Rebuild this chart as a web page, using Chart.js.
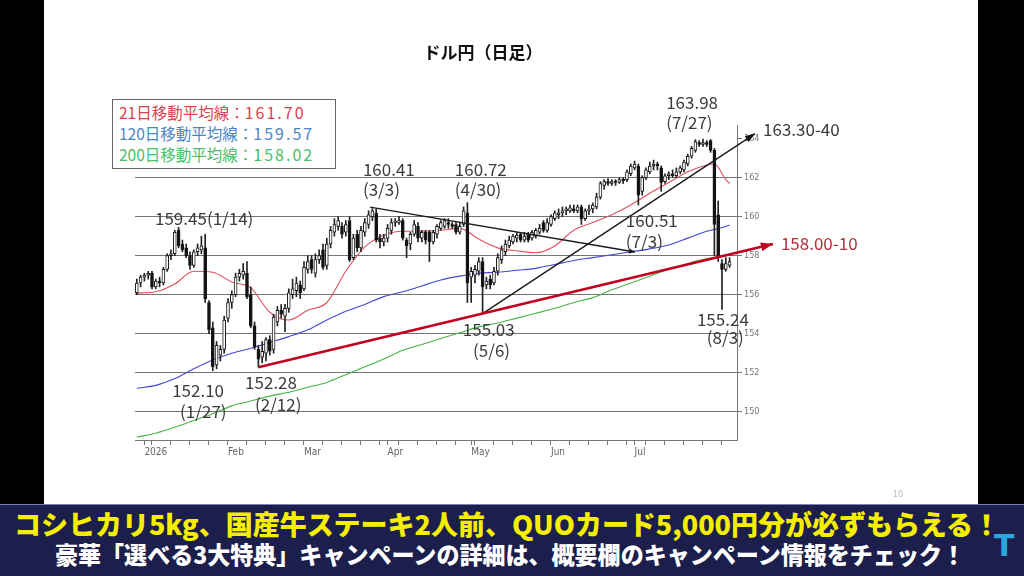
<!DOCTYPE html>
<html><head><meta charset="utf-8">
<script src="https://cdn.jsdelivr.net/npm/chart.js@4.4.1/dist/chart.umd.min.js"></script>
<style>
html,body{margin:0;padding:0;background:#000;width:1024px;height:576px;overflow:hidden;}
#slide{position:absolute;left:44px;top:0;width:934px;height:505px;background:#fff;}
#c{position:absolute;left:0;top:0;}
#title{position:absolute;left:0;width:966px;top:40px;text-align:center;font:700 17px "Noto Sans CJK JP";color:#111;line-height:24px;}
#legend{position:absolute;left:112px;top:99px;width:222px;height:68px;border:1px solid #666;background:#fff;}
#legend div{position:absolute;left:6px;font:400 15.5px "Noto Sans CJK JP";line-height:20px;white-space:nowrap;}
#legend span.n{font-size:16px;letter-spacing:2px;}
#page{position:absolute;left:893px;top:490px;font:400 8px "DejaVu Sans";color:#bbb;}
#banner{position:absolute;left:0;top:504px;width:1024px;height:72px;background:#1c1e4b;border-top:1px solid #7d82b5;}
.bl{position:absolute;white-space:nowrap;transform-origin:0 50%;font-family:"Noto Sans CJK JP";font-weight:900;}
#b1{color:#f6ee00;font-size:27px;line-height:30px;top:4px;}
#b2{color:#fff;font-size:24px;line-height:28px;top:35px;}
#logo{position:absolute;left:994px;top:26px;color:#2ba6de;font:900 30px "DejaVu Sans";line-height:30px;}
</style></head><body>
<div id="slide"></div>
<canvas id="c" width="1024" height="576"></canvas>
<div id="title">ドル円（日足）</div>
<div id="legend">
  <div style="top:2px;color:#d9434f">21日移動平均線：<span class="n">161.70</span></div>
  <div style="top:23px;color:#4a86c5">120日移動平均線：<span class="n">159.57</span></div>
  <div style="top:44px;color:#47c068">200日移動平均線：<span class="n">158.02</span></div>
</div>
<div id="page">10</div>
<div id="banner">
  <span class="bl" id="b1">コシヒカリ5kg、国産牛ステーキ2人前、QUOカード5,000円分が必ずもらえる！</span>
  <span class="bl" id="b2">豪華「選べる3大特典」キャンペーンの詳細は、概要欄のキャンペーン情報をチェック！</span>
  <div id="logo">T</div>
</div>
<script>
// ---- trading days (categories) ----
const dec2025 = [30,31];
const jan2026 = [1,2,5,6,7,8,9,12,13,14,15,16,19,20,21,22,23,26,27,28,29,30];
const feb2026 = [2,3,4,5,6,9,10,11,12,13,16,17,18,19,20,23,24,25,26,27];
const mar2026 = [2,3,4,5,6,9,10,11,12,13,16,17,18,19,20,23,24,25,26,27,30,31];
const apr2026 = [1,2,3,6,7,8,9,10,13,14,15,16,17,20,21,22,23,24,27,28,29,30];
const may2026 = [1,4,5,6,7,8,11,12,13,14,15,18,19,20,21,22,25,26,27,28,29];
const jun2026 = [1,2,3,4,5,8,9,10,11,12,15,16,17,18,19,22,23,24,25,26,29,30];
const jul2026 = [1,2,3,6,7,8,9,10,13,14,15,16,17,20,21,22,23,24,27,28,29,30,31];
const aug2026 = [3,4,5];
const monthLabels = ["2026","Feb","Mar","Apr","May","Jun","Jul"];
const yTicks = [150,152,154,156,158,160,162,164];

// ---- OHLC ----
const opens = [
156.1,156.6,156.9,157.0,157.1,156.4,156.7,156.6,157.3,158.0,
158.1,159.3,158.6,158.4,158.0,157.5,158.2,158.3,158.4,155.6,
154.3,152.4,152.9,153.2,154.8,155.6,156.0,156.9,157.0,157.1,
156.0,154.4,153.2,152.8,153.0,153.7,153.2,154.6,155.2,154.9,
155.3,156.0,156.2,156.5,156.3,157.3,157.8,157.1,157.8,158.3,
157.5,158.6,159.2,159.5,159.5,159.2,159.8,157.9,159.1,158.4,
159.2,159.6,160.0,160.2,158.9,158.7,158.9,159.3,159.7,159.7,
159.8,158.8,158.6,159.1,159.5,158.9,159.2,159.2,158.7,159.1,
159.4,159.5,159.7,159.6,159.6,159.2,159.6,160.2,156.9,157.0,
157.2,157.7,156.5,156.8,156.6,157.2,157.8,158.2,158.5,158.7,
158.9,159.1,158.8,159.1,158.9,159.0,159.2,159.7,159.3,159.6,
159.9,160.1,160.2,160.3,160.3,160.4,160.3,160.5,159.9,160.3,
160.4,160.5,161.0,161.6,161.8,161.7,161.8,161.75,161.9,161.9,
162.2,162.5,162.6,161.3,162.0,162.3,162.6,162.7,162.5,161.8,
162.1,162.2,162.1,162.3,162.4,162.7,163.1,163.4,163.8,163.7,
163.8,163.9,163.4,160.1,157.6,157.3,157.5];
const highs = [
156.8,157.0,157.1,157.2,157.2,156.8,156.9,157.4,158.1,158.3,
159.3,159.45,158.8,158.6,158.2,158.3,158.6,159.0,159.1,155.7,
154.6,153.6,153.4,154.9,155.8,156.2,157.1,157.3,157.6,157.7,
156.4,154.6,153.4,153.6,153.8,153.9,155.0,155.4,155.5,155.5,
156.3,156.8,156.9,156.7,157.7,158.0,158.0,158.1,158.3,158.6,
158.9,159.5,159.9,160.0,159.7,159.8,160.0,159.1,159.3,159.5,
159.9,160.3,160.41,160.4,159.1,159.1,159.6,159.9,159.9,160.0,
159.9,158.9,159.2,159.8,159.7,159.3,159.3,159.3,159.3,159.6,
159.8,159.9,159.9,159.7,159.7,159.7,160.5,160.72,157.4,157.5,
157.9,157.9,156.9,157.0,157.4,158.1,158.5,158.8,159.0,159.1,
159.2,159.2,159.2,159.2,159.3,159.4,159.6,159.8,159.9,160.1,
160.3,160.4,160.5,160.5,160.6,160.6,160.6,160.6,160.4,160.6,
160.7,161.2,161.8,161.9,161.95,161.9,161.9,162.0,162.0,162.4,
162.7,162.85,162.7,162.1,162.5,162.8,162.9,162.8,162.6,162.2,
162.3,162.4,162.5,162.6,162.9,163.2,163.6,163.95,163.9,163.98,
163.9,163.95,163.5,160.8,157.8,157.9,157.9];
const lows = [
156.0,156.4,156.7,156.8,156.3,156.3,156.4,156.5,157.2,157.8,
158.0,158.4,158.2,157.9,157.3,157.4,158.0,158.1,155.6,154.0,
152.10,152.2,152.6,153.0,154.6,155.3,155.9,156.7,156.8,155.8,
154.3,153.2,152.28,152.5,152.6,152.9,153.0,154.4,154.8,154.1,
155.1,155.8,155.9,155.8,156.2,157.1,157.1,156.9,157.6,157.3,
157.3,158.4,159.0,159.3,158.9,159.0,157.7,157.8,158.2,158.2,
159.0,159.4,159.8,158.7,158.4,158.5,158.7,159.1,159.5,159.6,
158.8,157.9,158.3,159.0,158.7,158.7,158.6,157.7,158.6,158.9,
159.3,159.4,159.4,159.4,159.1,159.1,159.5,155.6,155.6,156.6,
157.0,155.03,156.3,156.3,156.5,157.0,157.6,158.0,158.4,158.6,
158.7,158.7,158.7,158.7,158.8,158.9,159.1,159.2,159.2,159.5,
159.8,159.9,160.0,160.1,160.2,160.2,160.2,159.6,159.8,160.1,
160.2,160.4,160.9,161.4,161.6,161.6,161.6,161.7,161.7,161.8,
162.1,162.4,160.6,161.1,161.9,162.2,162.4,162.4,161.3,161.7,
161.9,162.0,162.0,162.2,162.3,162.6,163.0,163.3,163.6,163.6,
163.6,163.3,158.0,157.7,155.24,157.2,157.4];
const closes = [
156.6,156.9,157.0,157.1,156.4,156.7,156.6,157.3,158.0,158.1,
159.2,158.5,158.3,158.0,157.5,158.2,158.4,158.5,155.8,154.2,
152.3,153.4,153.2,154.7,155.6,156.0,156.9,157.1,157.2,155.9,
154.4,153.3,152.7,153.1,153.7,153.1,154.85,155.2,155.0,155.3,
156.1,156.3,156.6,156.1,157.4,157.7,157.3,157.8,158.0,157.4,
158.6,159.3,159.6,159.8,159.1,159.6,157.8,158.9,158.4,159.3,
159.7,160.1,160.3,158.8,158.7,158.9,159.4,159.7,159.75,159.8,
158.9,158.5,159.1,159.6,158.9,159.2,158.8,158.7,159.2,159.5,
159.7,159.8,159.6,159.5,159.2,159.5,160.3,156.6,157.2,157.3,
157.7,156.4,156.7,156.5,157.2,157.9,158.3,158.6,158.8,159.0,
159.05,158.8,159.0,158.8,159.2,159.3,159.4,159.3,159.7,160.0,
160.2,160.2,160.3,160.4,160.45,160.3,160.5,159.9,160.3,160.4,
160.6,161.0,161.7,161.8,161.7,161.8,161.75,161.9,161.85,162.3,
162.6,162.7,161.1,162.0,162.4,162.6,162.7,162.6,161.75,162.1,
162.2,162.1,162.3,162.5,162.8,163.1,163.5,163.85,163.7,163.8,
163.7,163.4,159.6,157.9,157.3,157.6,157.7];

// ---- moving averages (read at these trading-day positions) ----
const maIdx = [0,5,10,15,20,25,30,35,40,45,50,55,60,65,70,75,80,85,90,95,100,105,110,115,120,125,130,135,140,145,150,152,155,156];
const ma21 = [156.08,156.15,156.55,157.2,157.15,156.65,156.35,155.1,154.7,155.2,155.6,157.2,158.45,159.05,159.25,159.25,159.3,159.4,158.85,158.4,158.25,158.15,158.5,159.3,159.7,160.1,160.6,161.2,161.75,162.3,162.65,162.7,161.9,161.7];
const ma120 = [151.2,151.35,151.7,152.2,152.65,153.0,153.25,153.55,153.85,154.2,154.7,155.15,155.5,155.9,156.15,156.45,156.75,156.95,157.1,157.15,157.25,157.35,157.55,157.75,157.9,158.05,158.2,158.35,158.55,158.9,159.25,159.35,159.5,159.57];
const ma200 = [148.7,148.9,149.2,149.55,149.9,150.3,150.55,150.8,151.0,151.25,151.5,151.9,152.3,152.7,153.15,153.45,153.75,154.05,154.35,154.55,154.8,155.05,155.3,155.6,155.85,156.25,156.6,156.95,157.3,157.6,157.85,157.92,158.0,158.02];

// ---- trend lines (trading-day position, price) ----
const redTrendX = [32, 167.4];   const redTrendY = [152.28, 158.6];
const downTrendX = [61.4, 131.1]; const downTrendY = [160.49, 158.19];
const upTrendX = [91, 162.7];    const upTrendY = [155.03, 164.26];

// ---- build categories ----
const months = [[2025,12,dec2025],[2026,1,jan2026],[2026,2,feb2026],[2026,3,mar2026],[2026,4,apr2026],[2026,5,may2026],[2026,6,jun2026],[2026,7,jul2026],[2026,8,aug2026]];
const dates = [];
const labelMap = {};
const tickIdx = [];
months.forEach(([yy,mm,arr],mi)=>{
  arr.forEach((d,k)=>{
    const i = dates.length;
    dates.push(yy+'-'+mm+'-'+d);
    const wd = new Date(Date.UTC(yy,mm-1,d)).getUTCDay();
    const monthStart = (k===0 && mi>=1);
    if (monthStart && mi-1 < monthLabels.length) labelMap[i] = monthLabels[mi-1];
    if (wd===1 || monthStart) tickIdx.push(i);
  });
});

const pts = (xs, ys) => xs.map((x,k)=>({x:x, y:ys[k]}));
const wickData = dates.map((_,i)=>({x:i, y:[lows[i], highs[i]]}));
const bodyData = dates.map((_,i)=>({x:i, y:[opens[i], closes[i]]}));

const annFont = '400 17px "Noto Sans CJK JP"';
const annotations = [
  {t:'159.45(1/14)', i:4.79, p:159.91},
  {t:'160.41', i:59.5, p:162.42}, {t:'(3/3)', i:59.5, p:161.39},
  {t:'160.72', i:83.7, p:162.42}, {t:'(4/30)', i:83.7, p:161.39},
  {t:'160.51', i:128.7, p:159.81}, {t:'(7/3)', i:128.7, p:158.74},
  {t:'163.98', i:139.3, p:165.84}, {t:'(7/27)', i:139.3, p:164.82},
  {t:'163.30-40', i:164.8, p:164.46},
  {t:'158.00-10', i:169.5, p:158.64, c:'#b3303c'},
  {t:'152.10', i:9.3, p:151.07}, {t:'(1/27)', i:11.4, p:150.0},
  {t:'152.28', i:28.5, p:151.48}, {t:'(2/12)', i:31.1, p:150.36},
  {t:'155.03', i:85.8, p:154.19}, {t:'(5/6)', i:88.5, p:153.12},
  {t:'155.24', i:147.4, p:154.75}, {t:'(8/3)', i:150.0, p:153.78}
];
const arrows = [
  {ds:'red', color:'#c3001d', len:12, w:9},
  {ds:'up', color:'#111', len:10, w:7},
  {ds:'down', color:'#111', len:6, w:5}
];

const annoPlugin = {
  id:'anno',
  afterDatasetsDraw(chart){
    const ctx = chart.ctx, xs = chart.scales.x, ys = chart.scales.y;
    arrows.forEach(a=>{
      const di = chart.data.datasets.findIndex(d=>d.key===a.ds);
      const p = chart.getDatasetMeta(di).data;
      const p1 = p[p.length-2], p2 = p[p.length-1];
      const ang = Math.atan2(p2.y-p1.y, p2.x-p1.x);
      ctx.save(); ctx.fillStyle=a.color; ctx.translate(p2.x,p2.y); ctx.rotate(ang);
      ctx.beginPath(); ctx.moveTo(0,0); ctx.lineTo(-a.len,-a.w/2); ctx.lineTo(-a.len,a.w/2); ctx.closePath(); ctx.fill();
      ctx.restore();
    });
    ctx.save();
    ctx.font = annFont; ctx.textAlign='left'; ctx.textBaseline='middle';
    annotations.forEach(a=>{
      ctx.fillStyle = a.c || '#3c3c3c';
      ctx.fillText(a.t, xs.getPixelForValue(a.i), ys.getPixelForValue(a.p));
    });
    ctx.restore();
  }
};

const axisFont = {family:'"Liberation Sans Narrow", "DejaVu Sans Condensed", sans-serif', size:10};
new Chart(document.getElementById('c'), {
  type:'bar',
  data:{datasets:[
    {key:'ma200', type:'line', data:pts(maIdx,ma200), borderColor:'#46b446', borderWidth:1.1, pointRadius:0, cubicInterpolationMode:'monotone', order:9},
    {key:'ma120', type:'line', data:pts(maIdx,ma120), borderColor:'#4646d6', borderWidth:1.1, pointRadius:0, cubicInterpolationMode:'monotone', order:8},
    {key:'ma21', type:'line', data:pts(maIdx,ma21), borderColor:'#e0505f', borderWidth:1.1, pointRadius:0, cubicInterpolationMode:'monotone', order:7},
    {key:'wick', type:'bar', data:wickData, backgroundColor:'#222', borderWidth:0, barThickness:1, grouped:false, order:6},
    {key:'body', type:'bar', data:bodyData, grouped:false, barThickness:3, minBarLength:1.5, borderSkipped:false, borderWidth:1,
      borderColor:'#1a1a1a', backgroundColor:(c)=> closes[c.dataIndex] >= opens[c.dataIndex] ? '#ffffff' : '#111111', order:5},
    {key:'down', type:'line', data:pts(downTrendX,downTrendY), borderColor:'#1a1a1a', borderWidth:1.4, pointRadius:0, clip:false, order:3},
    {key:'up', type:'line', data:pts(upTrendX,upTrendY), borderColor:'#1a1a1a', borderWidth:1.4, pointRadius:0, clip:false, order:2},
    {key:'red', type:'line', data:pts(redTrendX,redTrendY), borderColor:'#c3001d', borderWidth:2.6, pointRadius:0, clip:false, order:1}
  ]},
  options:{
    responsive:false, animation:false, devicePixelRatio:1,
    layout:{padding:{left:135, top:125, right:257, bottom:116}},
    plugins:{legend:{display:false}, tooltip:{enabled:false}},
    scales:{
      x:{type:'linear', min:-0.47, max:157.95, offset:false, position:'bottom',
        grid:{offset:false, drawOnChartArea:false, drawTicks:true, tickLength:5, color:'#777', lineWidth:1},
        border:{display:true, color:'#777', width:1},
        ticks:{autoSkip:false, maxRotation:0, minRotation:0, align:'start', padding:1, color:'#666', font:axisFont,
          callback:(v)=> labelMap[v] || ''},
        afterBuildTicks:(s)=>{ s.ticks = tickIdx.map(v=>({value:v})); },
        afterFit:(s)=>{ s.height = 20; }
      },
      y:{type:'linear', position:'right', min:148.55, max:164.7,
        grid:{color:(c)=> (c.tick && c.tick.value===164) ? 'rgba(0,0,0,0)' : '#737373', tickColor:'#777', tickLength:5, lineWidth:1},
        border:{display:true, color:'#777', width:1},
        ticks:{color:'#777', font:{family:axisFont.family, size:9}, padding:2, callback:(v)=>String(v)},
        afterBuildTicks:(s)=>{ s.ticks = yTicks.map(v=>({value:v})); },
        afterFit:(s)=>{ s.width = 30; }
      }
    }
  },
  plugins:[annoPlugin]
});

function fit(id, left, width){
  const el = document.getElementById(id);
  el.style.transform = 'none';
  const w = el.getBoundingClientRect().width;
  el.style.left = left+'px';
  el.style.transform = 'scaleX('+(width/w)+')';
}
function fitAll(){ fit('b1', 14, 986); fit('b2', 55, 910); }
fitAll();
if (document.fonts && document.fonts.ready) document.fonts.ready.then(fitAll);
</script>
</body></html>
